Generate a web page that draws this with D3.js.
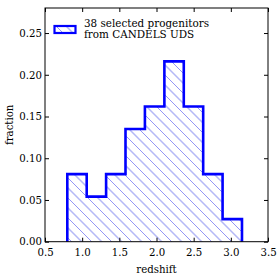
<!DOCTYPE html>
<html>
<head>
<meta charset="utf-8">
<script src="https://cdn.jsdelivr.net/npm/d3@7"></script>
<style>
  body { margin: 0; background: #fff; }
  text { font-family: "DejaVu Serif", serif; fill: #000; }
</style>
</head>
<body>
<svg id="chart" width="280" height="280"></svg>
<script>
// bin edges and fractions (histogram of redshifts)
var binEdges = [0.8, 1.061, 1.322, 1.583, 1.844, 2.106, 2.367, 2.628, 2.889, 3.15];
var fractions = [0.081, 0.054, 0.081, 0.135, 0.162, 0.216, 0.162, 0.081, 0.027];
var xTicks = [0.5, 1.0, 1.5, 2.0, 2.5, 3.0, 3.5];
var yTicks = [0.00, 0.05, 0.10, 0.15, 0.20, 0.25];
var legendLines = ["38 selected progenitors", "from CANDELS UDS"];

var svg = d3.select("#chart");
// note: can't call it "top", window.top is read-only
var pLeft = 45, pRight = 268, pTop = 8, pBottom = 241.7;

var x = d3.scaleLinear().domain([0.5, 3.5]).range([pLeft, pRight]);
var y = d3.scaleLinear().domain([0, 0.28]).range([pBottom, pTop]);

// hatch pattern "\\" - light wide line + thin darker line, alternating
var defs = svg.append("defs");
var pat = defs.append("pattern")
    .attr("id", "hatch")
    .attr("patternUnits", "userSpaceOnUse")
    .attr("width", 20).attr("height", 20);
pat.append("path")
    .attr("d", "M-5,-5 L25,25 M-10,10 L10,30 M10,-10 L30,10")
    .attr("stroke", "#b4b8f6").attr("stroke-width", 1.5);
pat.append("path")
    .attr("d", "M-10,0 L30,40 M0,-10 L30,20")
    .attr("stroke", "#6468f0").attr("stroke-width", 0.7);

// step outline
var pts = [[binEdges[0], 0]];
fractions.forEach(function(f, i) {
    pts.push([binEdges[i], f]);
    pts.push([binEdges[i + 1], f]);
});
pts.push([binEdges[binEdges.length - 1], 0]);

var line = d3.line().x(function(d) { return x(d[0]); }).y(function(d) { return y(d[1]); });

svg.append("path")
    .attr("d", line(pts) + "Z")
    .attr("fill", "url(#hatch)")
    .attr("stroke", "none");
svg.append("path")
    .attr("d", line(pts))
    .attr("fill", "none")
    .attr("stroke", "#0000ff")
    .attr("stroke-width", 2.6)
    .attr("stroke-linejoin", "miter");

// axes with inward ticks on all four sides
var fmt = d3.format(".1f");
var gB = svg.append("g").attr("transform", "translate(0," + pBottom + ")")
    .call(d3.axisBottom(x).tickValues(xTicks).tickFormat(fmt).tickSize(-4).tickPadding(7));
var gT = svg.append("g").attr("transform", "translate(0," + pTop + ")")
    .call(d3.axisTop(x).tickValues(xTicks).tickFormat("").tickSize(-4));
var gL = svg.append("g").attr("transform", "translate(" + pLeft + ",0)")
    .call(d3.axisLeft(y).tickValues(yTicks).tickFormat(d3.format(".2f")).tickSize(-4).tickPadding(3));
var gR = svg.append("g").attr("transform", "translate(" + pRight + ",0)")
    .call(d3.axisRight(y).tickValues(yTicks).tickFormat("").tickSize(-4));

[gB, gT, gL, gR].forEach(function(g) {
    g.select(".domain").remove();
    g.selectAll("line").attr("stroke", "#000");
    g.selectAll("text").attr("font-family", "DejaVu Serif").attr("font-size", 10.2).attr("fill", "#000");
});

svg.append("rect")
    .attr("x", pLeft).attr("y", pTop)
    .attr("width", pRight - pLeft).attr("height", pBottom - pTop)
    .attr("fill", "none").attr("stroke", "#000").attr("stroke-width", 1);

// axis labels
svg.append("text")
    .attr("x", (pLeft + pRight) / 2).attr("y", 273)
    .attr("text-anchor", "middle").attr("font-size", 10.2)
    .attr("font-family", "DejaVu Serif")
    .text("redshift");
svg.append("text")
    .attr("transform", "translate(13," + ((pTop + pBottom) / 2) + ") rotate(-90)")
    .attr("text-anchor", "middle").attr("font-size", 10.2)
    .attr("font-family", "DejaVu Serif")
    .text("fraction");

// legend
svg.append("rect")
    .attr("x", 54.5).attr("y", 26).attr("width", 21).attr("height", 7)
    .attr("fill", "url(#hatch)")
    .attr("stroke", "#0000ff").attr("stroke-width", 2.2);
svg.selectAll(".leg").data(legendLines).enter().append("text")
    .attr("class", "leg")
    .attr("x", 84).attr("y", function(d, i) { return 27 + i * 10.5; })
    .attr("font-size", 10.4)
    .attr("font-family", "DejaVu Serif")
    .text(function(d) { return d; });
</script>
</body>
</html>
